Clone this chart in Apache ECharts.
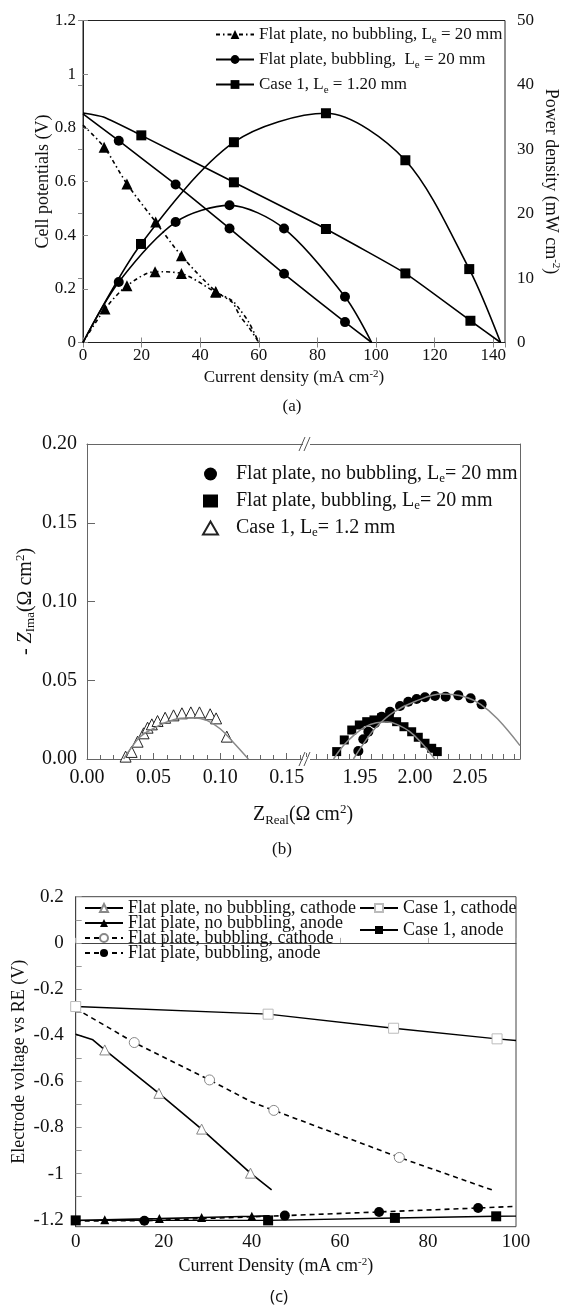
<!DOCTYPE html>
<html><head><meta charset="utf-8">
<script src="https://cdn.jsdelivr.net/npm/echarts@6/dist/echarts.min.js"></script>
<style>html,body{margin:0;padding:0;background:#fff}#c{width:569px;height:1305px}</style>
</head><body><div id="c"></div>
<script>
// ================= Panel (a) data =================
// Flat plate, no bubbling: cell potential (V) and power density (mW cm-2)
const aNoV_I = [0, 7.2, 15, 24.8, 33.6, 45.3, 50.9, 53.7, 56.5, 60];
const aNoV_V = [0.81, 0.728, 0.591, 0.449, 0.323, 0.19, 0.15, 0.096, 0.058, 0];
const aNoV_M = [0, 1, 1, 1, 1, 1, 0, 0, 0, 0];
const aNoP_I = [0, 7.5, 15, 24.6, 33.6, 45.3, 50.9, 53.7, 56.5, 60];
const aNoP_P = [0, 5.2, 8.8, 11.0, 10.7, 7.8, 6.5, 5.0, 3.2, 0];
const aNoP_M = [0, 1, 1, 1, 1, 1, 0, 0, 0, 0];
// Flat plate, bubbling
const aBubV_I = [0, 12.2, 31.6, 50, 68.6, 89.4, 98.5];
const aBubV_V = [0.852, 0.752, 0.589, 0.425, 0.256, 0.076, 0];
const aBubV_M = [0, 1, 1, 1, 1, 1, 0];
const aBubP_I = [0, 12.2, 31.6, 50, 68.6, 89.4, 98.5];
const aBubP_P = [0, 9.4, 18.7, 21.3, 17.7, 7.1, 0];
const aBubP_M = [0, 1, 1, 1, 1, 1, 0];
// Case 1
const aCaseV_I = [0, 7, 19.9, 51.5, 82.9, 110, 132.2, 142.5];
const aCaseV_V = [0.855, 0.84, 0.772, 0.597, 0.423, 0.2575, 0.081, 0];
const aCaseV_M = [0, 0, 1, 1, 1, 1, 1, 0];
const aCaseP_I = [0, 19.8, 51.5, 82.9, 110, 131.8, 142.5];
const aCaseP_P = [0, 15.3, 31.1, 35.6, 28.3, 11.4, 0];
const aCaseP_M = [0, 1, 1, 1, 1, 1, 0];

// ================= Panel (b) data =================
const bNoX = [1.9485, 1.953, 1.9576, 1.9636, 1.9697, 1.9773, 1.9864, 1.9939, 2.0015, 2.0091, 2.0182, 2.0279, 2.0394, 2.0506, 2.0606];
const bNoY = [0.0051, 0.0125, 0.0173, 0.0227, 0.0269, 0.030, 0.0337, 0.0364, 0.0381, 0.0392, 0.040, 0.0396, 0.0404, 0.0385, 0.0347];
const bNoFitX = [1.944, 1.955, 1.965, 1.98, 2.0, 2.025, 2.045, 2.06, 2.075, 2.0955];
const bNoFitY = [0, 0.0115, 0.0205, 0.0295, 0.0365, 0.0412, 0.0395, 0.0345, 0.0255, 0.0085];
const bBubX = [1.9288, 1.9357, 1.9425, 1.9494, 1.9561, 1.9627, 1.9697, 1.9767, 1.9833, 1.99, 1.997, 2.003, 2.0091, 2.0152, 2.0203];
const bBubY = [0.0047, 0.0121, 0.0184, 0.0216, 0.0237, 0.0248, 0.0262, 0.0258, 0.0237, 0.0205, 0.0173, 0.0138, 0.010, 0.0068, 0.0047];
const bBubFitX = [1.926, 1.935, 1.945, 1.955, 1.965, 1.975, 1.985, 1.995, 2.005, 2.018];
const bBubFitY = [0, 0.0085, 0.0155, 0.0205, 0.023, 0.0235, 0.0215, 0.0175, 0.011, 0];
const bCaseX = [0.029, 0.0335, 0.038, 0.0425, 0.0455, 0.0487, 0.053, 0.0587, 0.065, 0.0713, 0.078, 0.0845, 0.0925, 0.097, 0.105];
const bCaseY = [0.0015, 0.0045, 0.011, 0.0163, 0.0199, 0.022, 0.0241, 0.0262, 0.0277, 0.029, 0.0296, 0.0296, 0.0284, 0.0258, 0.0142];
const bCaseFitX = [0.0275, 0.033, 0.04, 0.05, 0.06, 0.07, 0.08, 0.09, 0.1, 0.11, 0.1212];
const bCaseFitY = [0, 0.0068, 0.0142, 0.0195, 0.0235, 0.0258, 0.0262, 0.0245, 0.0192, 0.0105, 0];
const bRightLabels = [1.95, 2.0, 2.05];
const bRightTicks = [1.91, 1.92, 1.93, 1.94, 1.95, 1.96, 1.97, 1.98, 1.99, 2.0, 2.01, 2.02, 2.03, 2.04, 2.05, 2.06, 2.07, 2.08, 2.09];

// ================= Panel (c) data =================
const c1X = [0, 3.9, 6.6, 18.9, 28.6, 39.7, 44.5];           // FP no bubbling, cathode
const c1Y = [-0.396, -0.42, -0.464, -0.652, -0.807, -0.998, -1.07];
const c1M = [0, 0, 1, 1, 1, 1, 0];
const c2X = [0, 6.6, 19, 28.6, 40, 44];                        // FP no bubbling, anode
const c2Y = [-1.203, -1.2, -1.195, -1.19, -1.185, -1.183];
const c2M = [0, 1, 1, 1, 1, 0];
const c3X = [0, 13.3, 30.4, 40, 45, 73.5, 94.9];               // FP bubbling, cathode
const c3Y = [-0.285, -0.432, -0.594, -0.69, -0.726, -0.93, -1.073];
const c3M = [0, 1, 1, 0, 1, 1, 0];
const c4X = [0, 15.6, 47.5, 68.9, 91.4, 99.5];                 // FP bubbling, anode
const c4Y = [-1.205, -1.204, -1.182, -1.166, -1.149, -1.142];
const c4M = [0, 1, 1, 1, 1, 0];
const c5X = [0, 43.7, 72.2, 95.7, 100];                        // Case 1, cathode
const c5Y = [-0.276, -0.309, -0.37, -0.416, -0.423];
const c5M = [1, 1, 1, 1, 0];
const c6X = [0, 43.7, 72.5, 95.5, 100];                        // Case 1, anode
const c6Y = [-1.2026, -1.2026, -1.192, -1.185, -1.184];
const c6M = [1, 1, 1, 1, 0];
const cYLabels = [-1.2, -1, -0.8, -0.6, -0.4, -0.2, 0, 0.2];
const cYTicks = [-1.2, -1.1, -1.0, -0.9, -0.8, -0.7, -0.6, -0.5, -0.4, -0.3, -0.2, -0.1, 0, 0.1, 0.2];

// ================= helpers / styles =================
const SERIF = "'Liberation Serif','Times New Roman',serif";
const SANS = "'Open Sans','Noto Sans',sans-serif";
const INK = '#111';
function pts(xs, ys, ms) {
  return xs.map((x, i) => {
    const d = { value: [x, ys[i]] };
    if (ms && !ms[i]) d.symbol = 'none';
    return d;
  });
}
function xy(xs, ys) { return xs.map((x, i) => [x, ys[i]]); }
const subRich = (fs, pad) => ({ sub: { fontFamily: SERIF, fontSize: fs, padding: [pad, 0, 0, 0], color: INK },
  sup: { fontFamily: SERIF, fontSize: fs, padding: [0, 0, pad, 0], color: INK },
  it: { fontFamily: SERIF, fontStyle: 'italic', color: INK } });

const GA = { left: 83, top: 20.5, width: 430, height: 322 };
const GB1 = { left: 87, top: 444, width: 219, height: 315 };
const GB2 = { left: 306, top: 444, width: 214, height: 315 };
const GC = { left: 75.7, top: 896.7, width: 440.3, height: 330 };

const lbl = (fs, extra) => Object.assign({ fontFamily: SERIF, fontSize: fs, color: INK }, extra || {});
const tickIn = (len, color) => ({ show: true, inside: true, length: len, lineStyle: { color: color || '#888' } });

const legendNames = {
  aNo: 'Flat plate, no bubbling, L{sub|e} = 20 mm',
  aBub: 'Flat plate, bubbling,  L{sub|e} = 20 mm',
  aCase: 'Case 1, L{sub|e} = 1.20 mm',
  bNo: 'Flat plate, no bubbling, L{sub|e}= 20 mm',
  bBub: 'Flat plate, bubbling, L{sub|e}= 20 mm',
  bCase: 'Case 1, L{sub|e}= 1.2 mm',
  c1: 'Flat plate, no bubbling, cathode',
  c2: 'Flat plate, no bubbling, anode',
  c3: 'Flat plate, bubbling, cathode',
  c4: 'Flat plate, bubbling, anode',
  c5: 'Case 1, cathode',
  c6: 'Case 1, anode'
};

const lineA = (type) => ({ color: '#000', width: 1.6, type: type || 'solid' });
const DASHDOT = [4, 3, 1.5, 3];

const series = [
  // ---- (a) ----
  { name: 'aNo', type: 'line', xAxisIndex: 0, yAxisIndex: 0, data: pts(aNoV_I, aNoV_V, aNoV_M), smooth: 0.3,
    symbol: 'triangle', symbolSize: 11, itemStyle: { color: '#000' }, lineStyle: lineA(DASHDOT) },
  { name: 'aNo', type: 'line', xAxisIndex: 0, yAxisIndex: 1, data: pts(aNoP_I, aNoP_P, aNoP_M), smooth: 0.3,
    symbol: 'triangle', symbolSize: 11, itemStyle: { color: '#000' }, lineStyle: lineA(DASHDOT) },
  { name: 'aBub', type: 'line', xAxisIndex: 0, yAxisIndex: 0, data: pts(aBubV_I, aBubV_V, aBubV_M), smooth: 0.15,
    symbol: 'circle', symbolSize: 10, itemStyle: { color: '#000' }, lineStyle: lineA() },
  { name: 'aBub', type: 'line', xAxisIndex: 0, yAxisIndex: 1, data: pts(aBubP_I, aBubP_P, aBubP_M), smooth: 0.3,
    symbol: 'circle', symbolSize: 10, itemStyle: { color: '#000' }, lineStyle: lineA() },
  { name: 'aCase', type: 'line', xAxisIndex: 0, yAxisIndex: 0, data: pts(aCaseV_I, aCaseV_V, aCaseV_M), smooth: 0.15,
    symbol: 'rect', symbolSize: 10, itemStyle: { color: '#000' }, lineStyle: lineA() },
  { name: 'aCase', type: 'line', xAxisIndex: 0, yAxisIndex: 1, data: pts(aCaseP_I, aCaseP_P, aCaseP_M), smooth: 0.3,
    symbol: 'rect', symbolSize: 10, itemStyle: { color: '#000' }, lineStyle: lineA() },
  // ---- (b) fits ----
  { name: 'bCaseFit', type: 'line', xAxisIndex: 2, yAxisIndex: 2, data: xy(bCaseFitX, bCaseFitY), smooth: 0.4,
    showSymbol: false, lineStyle: { color: '#888', width: 1.5 } },
  { name: 'bBubFit', type: 'line', xAxisIndex: 4, yAxisIndex: 3, data: xy(bBubFitX, bBubFitY), smooth: 0.4,
    showSymbol: false, lineStyle: { color: '#888', width: 1.5 } },
  { name: 'bNoFit', type: 'line', xAxisIndex: 4, yAxisIndex: 3, data: xy(bNoFitX, bNoFitY), smooth: 0.4,
    showSymbol: false, lineStyle: { color: '#888', width: 1.5 } },
  // ---- (b) markers ----
  { name: 'bNo', type: 'scatter', xAxisIndex: 4, yAxisIndex: 3, data: xy(bNoX, bNoY), symbol: 'circle', symbolSize: 10,
    itemStyle: { color: '#000', opacity: 1 } },
  { name: 'bBub', type: 'scatter', xAxisIndex: 4, yAxisIndex: 3, data: xy(bBubX, bBubY), symbol: 'rect', symbolSize: 9,
    itemStyle: { color: '#000', opacity: 1 } },
  { name: 'bCase', type: 'scatter', xAxisIndex: 2, yAxisIndex: 2, data: xy(bCaseX, bCaseY), symbol: 'triangle', symbolSize: 11,
    itemStyle: { color: '#fff', borderColor: '#222', borderWidth: 1, opacity: 1 } },
  // ---- (c) ----
  { name: 'c1', type: 'line', xAxisIndex: 6, yAxisIndex: 4, data: pts(c1X, c1Y, c1M), symbol: 'triangle', symbolSize: 10,
    itemStyle: { color: '#fff', borderColor: '#888', borderWidth: 1 }, lineStyle: { color: '#000', width: 1.6 } },
  { name: 'c2', type: 'line', xAxisIndex: 6, yAxisIndex: 4, data: pts(c2X, c2Y, c2M), symbol: 'triangle', symbolSize: 9,
    itemStyle: { color: '#000' }, lineStyle: { color: '#000', width: 1.6 } },
  { name: 'c3', type: 'line', xAxisIndex: 6, yAxisIndex: 4, data: pts(c3X, c3Y, c3M), symbol: 'circle', symbolSize: 10,
    itemStyle: { color: '#fff', borderColor: '#888', borderWidth: 1 }, lineStyle: { color: '#000', width: 1.6, type: [5, 4] } },
  { name: 'c4', type: 'line', xAxisIndex: 6, yAxisIndex: 4, data: pts(c4X, c4Y, c4M), symbol: 'circle', symbolSize: 10,
    itemStyle: { color: '#000' }, lineStyle: { color: '#000', width: 1.6, type: [5, 4] } },
  { name: 'c5', type: 'line', xAxisIndex: 6, yAxisIndex: 4, data: pts(c5X, c5Y, c5M), symbol: 'rect', symbolSize: 10,
    itemStyle: { color: '#fff', borderColor: '#bbb', borderWidth: 1 }, lineStyle: { color: '#000', width: 1.4 } },
  { name: 'c6', type: 'line', xAxisIndex: 6, yAxisIndex: 4, data: pts(c6X, c6Y, c6M), symbol: 'rect', symbolSize: 10,
    itemStyle: { color: '#000' }, lineStyle: { color: '#000', width: 1.4 } }
];

const lineAx = (c) => ({ show: true, lineStyle: { color: c || '#222', width: 1 } });
const none = { show: false };

const option = {
  backgroundColor: '#fff',
  animation: false,
  grid: [
    Object.assign({ show: true, borderColor: '#222', borderWidth: 1 }, GA),
    Object.assign({}, GB1),
    Object.assign({}, GB2),
    Object.assign({ show: true, borderColor: '#444', borderWidth: 1 }, GC)
  ],
  xAxis: [
    { gridIndex: 0, type: 'value', position: 'bottom', min: 0, max: 144, interval: 20,
      axisLine: lineAx(), axisTick: tickIn(5), splitLine: none,
      axisLabel: lbl(17, { margin: 5, showMaxLabel: false }),
      name: 'Current density (mA cm{sup|-2})', nameLocation: 'middle', nameGap: 26, nameMoveOverlap: false,
      nameTextStyle: lbl(17, { rich: subRich(11, 8) }) },
    { gridIndex: 0, type: 'value', position: 'top', min: 0, max: 144, interval: 20,
      axisLine: lineAx(), axisTick: tickIn(5), axisLabel: none, splitLine: none },
    { gridIndex: 1, type: 'value', position: 'bottom', min: 0, max: 0.1645, interval: 0.05,
      axisLine: lineAx('#666'), axisTick: tickIn(6, '#666'),
      minorTick: { show: true, splitNumber: 5, length: 4, lineStyle: { color: '#666' } },
      splitLine: none, minorSplitLine: none,
      axisLabel: lbl(20, { margin: 9, showMaxLabel: false, formatter: v => v.toFixed(2) }) },
    { gridIndex: 1, type: 'value', position: 'top', min: 0, max: 0.1645,
      axisLine: lineAx('#666'), axisTick: none, axisLabel: none, splitLine: none },
    { gridIndex: 2, type: 'value', position: 'bottom', min: 1.9009, max: 2.0955,
      axisLine: lineAx('#666'),
      axisTick: { show: true, inside: true, length: 5, customValues: bRightTicks, lineStyle: { color: '#666' } },
      splitLine: none,
      axisLabel: lbl(20, { margin: 9, customValues: bRightLabels, formatter: v => v.toFixed(2) }) },
    { gridIndex: 2, type: 'value', position: 'top', min: 1.9009, max: 2.0955,
      axisLine: lineAx('#666'), axisTick: none, axisLabel: none, splitLine: none },
    { gridIndex: 3, type: 'value', position: 'bottom', min: 0, max: 100, interval: 20,
      axisLine: lineAx('#444'), axisTick: tickIn(5, '#aaa'), splitLine: none,
      axisLabel: lbl(19, { margin: 6 }),
      name: 'Current Density (mA cm{sup|-2})', nameLocation: 'middle', nameGap: 30, nameMoveOverlap: false,
      nameTextStyle: lbl(18, { padding: [0, 40, 0, 0], rich: subRich(11, 9) }) }
  ],
  yAxis: [
    { gridIndex: 0, type: 'value', position: 'left', min: 0, max: 1.2, interval: 0.2,
      axisLine: lineAx(), axisTick: tickIn(5), splitLine: none,
      axisLabel: lbl(17, { margin: 7 }),
      name: 'Cell potentials (V)', nameLocation: 'middle', nameGap: 31, nameMoveOverlap: false, nameTextStyle: lbl(18) },
    { gridIndex: 0, type: 'value', position: 'right', min: 0, max: 50, interval: 10,
      axisLine: lineAx(), axisTick: tickIn(5), splitLine: none,
      axisLabel: lbl(17, { margin: 12 }),
      name: 'Power density (mW cm{sup|-2})', nameLocation: 'middle', nameGap: 36, nameRotate: -90, nameMoveOverlap: false,
      nameTextStyle: lbl(18, { rich: subRich(11, 9) }) },
    { gridIndex: 1, type: 'value', position: 'left', min: 0, max: 0.2, interval: 0.05,
      axisLine: lineAx('#666'), axisTick: tickIn(8, '#666'), splitLine: none,
      axisLabel: lbl(20, { margin: 10, formatter: v => v.toFixed(2) }),
      name: '- {it|Z}{sub|Ima}(Ω cm{sup|2})', nameLocation: 'middle', nameGap: 50, nameMoveOverlap: false,
      nameTextStyle: lbl(20, { rich: { sub: { fontFamily: SERIF, fontSize: 13, padding: [10, 0, 0, 0], color: INK },
        sup: { fontFamily: SERIF, fontSize: 13, padding: [0, 0, 10, 0], color: INK },
        it: { fontFamily: SERIF, fontSize: 20, fontStyle: 'italic', color: INK } } }) },
    { gridIndex: 2, type: 'value', position: 'right', min: 0, max: 0.2,
      axisLine: lineAx('#666'), axisTick: none, axisLabel: none, splitLine: none },
    { gridIndex: 3, type: 'value', position: 'left', min: -1.23, max: 0.2,
      axisLine: lineAx('#444'),
      axisTick: { show: true, inside: true, length: 6, customValues: cYTicks, lineStyle: { color: '#999' } },
      splitLine: none,
      axisLabel: lbl(19, { margin: 12, customValues: cYLabels }),
      name: 'Electrode voltage vs RE (V)', nameLocation: 'middle', nameGap: 47, nameMoveOverlap: false, nameTextStyle: lbl(18) }
  ],
  legend: [
    { data: ['aNo', 'aBub', 'aCase'], orient: 'vertical', left: 215, top: 26, padding: 0, itemWidth: 38, itemHeight: 11,
      itemGap: 5, selectedMode: false, formatter: n => legendNames[n],
      textStyle: lbl(17, { rich: { sub: { fontFamily: SERIF, fontSize: 11, padding: [12, 0, 0, 0], color: INK } } }) },
    { data: ['bNo', 'bBub', 'bCase'], orient: 'vertical', left: 202, top: 464, padding: 0, itemWidth: 15, itemHeight: 13,
      itemGap: 5.5, selectedMode: false, formatter: n => legendNames[n], itemStyle: { opacity: 1 },
      textStyle: lbl(20, { padding: [0, 0, 0, 13], rich: { sub: { fontFamily: SERIF, fontSize: 13, padding: [10, 0, 0, 0], color: INK } } }) },
    { data: ['c1', 'c2', 'c3', 'c4'], orient: 'vertical', left: 84, top: 899, padding: 0, itemWidth: 38, itemHeight: 10,
      itemGap: -3, selectedMode: false, formatter: n => legendNames[n],
      textStyle: lbl(18, { lineHeight: 15 }) },
    { data: ['c5', 'c6'], orient: 'vertical', left: 359, top: 899, padding: 0, itemWidth: 38, itemHeight: 10,
      itemGap: 4, selectedMode: false, formatter: n => legendNames[n],
      textStyle: lbl(18, { lineHeight: 15 }) }
  ],
  series: series
};

// ---- decorations: axis break marks, x title of (b), panel letters ----
const bx = GB1.left + GB1.width;
function breakMark(yAxisPix) {
  return [
    { type: 'rect', shape: { x: bx - 3, y: yAxisPix - 2, width: 7, height: 4 }, style: { fill: '#fff' }, z: 100 },
    { type: 'line', shape: { x1: bx - 7, y1: yAxisPix + 7, x2: bx - 1, y2: yAxisPix - 7 }, style: { stroke: '#555', lineWidth: 1 }, z: 101 },
    { type: 'line', shape: { x1: bx - 2, y1: yAxisPix + 7, x2: bx + 4, y2: yAxisPix - 7 }, style: { stroke: '#555', lineWidth: 1 }, z: 101 }
  ];
}
option.graphic = [].concat(
  breakMark(GB1.top), breakMark(GB1.top + GB1.height),
  [
    { type: 'text', x: 303, y: 815, style: { text: 'Z{sub|Real}(Ω cm{sup|2})', font: "20px " + SERIF, fill: INK,
        align: 'center', verticalAlign: 'middle',
        rich: { sub: { fontFamily: SERIF, fontSize: 13, padding: [11, 0, 0, 0], fill: INK },
                sup: { fontFamily: SERIF, fontSize: 13, padding: [0, 0, 10, 0], fill: INK } } } },
    { type: 'text', x: 292, y: 407, style: { text: '(a)', font: "17px " + SERIF, fill: INK, align: 'center', verticalAlign: 'middle' } },
    { type: 'text', x: 282, y: 850, style: { text: '(b)', font: "17px " + SERIF, fill: INK, align: 'center', verticalAlign: 'middle' } },
    { type: 'text', x: 279, y: 1297, style: { text: '(c)', font: "17px " + SANS, fill: INK, align: 'center', verticalAlign: 'middle' } }
  ]
);

const chart = echarts.init(document.getElementById('c'), null, { renderer: 'canvas', width: 569, height: 1305 });
chart.setOption(option);
</script>
</body></html>
